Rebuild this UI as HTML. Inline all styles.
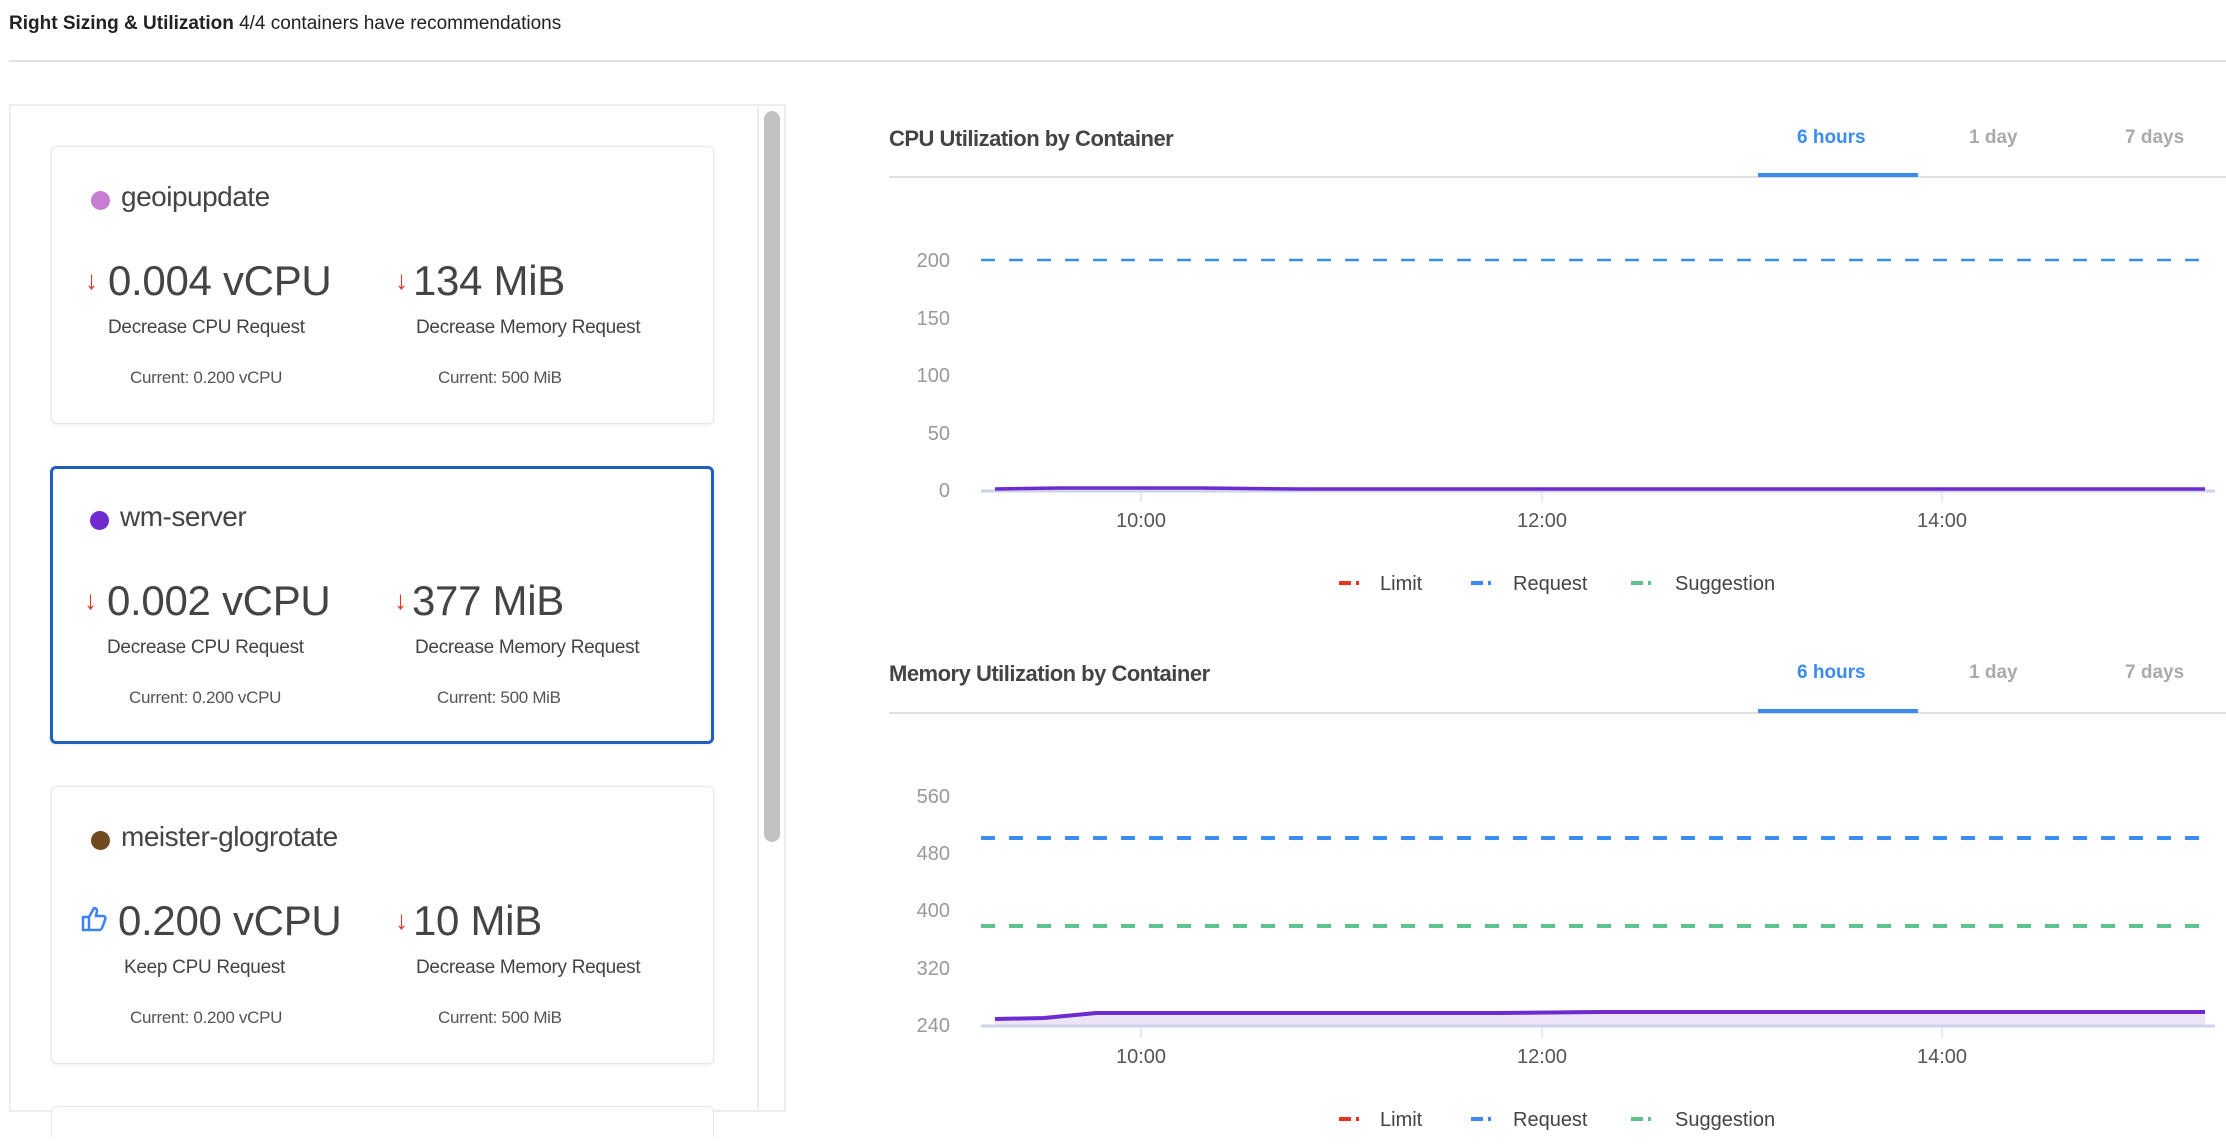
<!DOCTYPE html>
<html style="overflow:hidden;height:1144px"><head><meta charset="utf-8"><style>
body{margin:0;width:2226px;height:1144px;background:#fff;font-family:"Liberation Sans",sans-serif;position:relative;overflow:hidden;color:#333}
.a{position:absolute;white-space:nowrap}
.card{position:absolute;left:51px;width:661px;height:276px;border:1px solid #e6e6e6;border-radius:6px;box-shadow:0 1px 3px rgba(0,0,0,.08);background:#fff}
.sel{border:3px solid #1f5fbf;left:50px;width:658px;height:272px}
.dot{position:absolute;width:19px;height:19px;border-radius:50%;left:39px;top:44px}
.nm{position:absolute;left:69px;top:34px;font-size:28px;color:#444;letter-spacing:-0.5px}
.big{position:absolute;top:110px;font-size:42px;color:#444;letter-spacing:-0.3px}
.lab{position:absolute;top:170px;font-size:19px;color:#444;letter-spacing:-0.3px}
.cur{position:absolute;top:221px;font-size:17px;color:#555;letter-spacing:-0.3px}
.arr{position:absolute;top:118px;color:#e53522;font-size:26px;font-weight:bold}
</style></head><body>
<div class="a" style="left:9px;top:13px;font-size:19px;color:#222"><b>Right Sizing &amp; Utilization</b> 4/4 containers have recommendations</div>
<div class="a" style="left:9px;top:60px;width:2217px;height:2px;background:#e2e2e2"></div>
<div class="a" style="left:9px;top:104px;width:777px;height:1008px;border:2px solid #eee;box-sizing:border-box"></div>
<div class="a" style="left:757px;top:104px;width:2px;height:1008px;background:#eee"></div>
<div class="a" style="left:764px;top:111px;width:16px;height:731px;border-radius:8px;background:#c1c1c1"></div>

<div class="card" style="top:146px">
<div class="dot" style="background:#c77dd1"></div><div class="nm">geoipupdate</div>
<div class="arr" style="left:33px">↓</div><div class="big" style="left:56px">0.004 vCPU</div>
<div class="arr" style="left:343px">↓</div><div class="big" style="left:361px">134 MiB</div>
<div class="lab" style="left:56px">Decrease CPU Request</div><div class="lab" style="left:364px">Decrease Memory Request</div>
<div class="cur" style="left:78px">Current: 0.200 vCPU</div><div class="cur" style="left:386px">Current: 500 MiB</div>
</div>
<div class="card sel" style="top:466px">
<div class="dot" style="background:#6e2bd0;left:37px;top:42px"></div><div class="nm" style="left:67px;top:32px">wm-server</div>
<div class="arr" style="left:31px;top:116px">↓</div><div class="big" style="left:54px;top:108px">0.002 vCPU</div>
<div class="arr" style="left:341px;top:116px">↓</div><div class="big" style="left:359px;top:108px">377 MiB</div>
<div class="lab" style="left:54px;top:168px">Decrease CPU Request</div><div class="lab" style="left:362px;top:168px">Decrease Memory Request</div>
<div class="cur" style="left:76px;top:219px">Current: 0.200 vCPU</div><div class="cur" style="left:384px;top:219px">Current: 500 MiB</div>
</div>
<div class="card" style="top:786px">
<div class="dot" style="background:#6e4a1e"></div><div class="nm">meister-glogrotate</div>
<svg class="a" style="left:28px;top:118px" width="28" height="28" viewBox="0 0 28 28"><path d="M3 12h6v13H3z M9 12l5-9c2 0 3 1 3 3l-1 5h7c2 0 3 2 2 4l-3 8c-1 2-2 2-3 2H9" fill="none" stroke="#3b82f6" stroke-width="2.5"/></svg>
<div class="big" style="left:66px">0.200 vCPU</div>
<div class="arr" style="left:343px">↓</div><div class="big" style="left:361px">10 MiB</div>
<div class="lab" style="left:72px">Keep CPU Request</div><div class="lab" style="left:364px">Decrease Memory Request</div>
<div class="cur" style="left:78px">Current: 0.200 vCPU</div><div class="cur" style="left:386px">Current: 500 MiB</div>
</div>
<div class="card" style="top:1106px;height:30px;border-bottom:none;border-radius:6px 6px 0 0;box-shadow:none"></div>

<!-- CPU chart -->
<div class="a" style="left:889px;top:126px;font-size:22px;font-weight:bold;color:#444;letter-spacing:-0.5px">CPU Utilization by Container</div>
<div class="a" style="left:889px;top:176px;width:1337px;height:2px;background:#e0e0e0"></div>
<div class="a" style="left:1758px;top:173px;width:160px;height:4px;background:#3b8cf0"></div>
<div class="a" style="left:1797px;top:127px;font-size:19px;font-weight:bold;color:#3b8cf0">6 hours</div>
<div class="a" style="left:1969px;top:127px;font-size:19px;font-weight:bold;color:#aaa">1 day</div>
<div class="a" style="left:2125px;top:127px;font-size:19px;font-weight:bold;color:#aaa">7 days</div>
<!-- Memory chart -->
<div class="a" style="left:889px;top:661px;font-size:22px;font-weight:bold;color:#444;letter-spacing:-0.5px">Memory Utilization by Container</div>
<div class="a" style="left:889px;top:712px;width:1337px;height:2px;background:#e0e0e0"></div>
<div class="a" style="left:1758px;top:709px;width:160px;height:4px;background:#3b8cf0"></div>
<div class="a" style="left:1797px;top:662px;font-size:19px;font-weight:bold;color:#3b8cf0">6 hours</div>
<div class="a" style="left:1969px;top:662px;font-size:19px;font-weight:bold;color:#aaa">1 day</div>
<div class="a" style="left:2125px;top:662px;font-size:19px;font-weight:bold;color:#aaa">7 days</div>

<svg class="a" style="left:0;top:0" width="2226" height="1144" font-family="Liberation Sans, sans-serif">
<g font-size="20" fill="#999" text-anchor="end">
<text x="950" y="267">200</text><text x="950" y="325">150</text><text x="950" y="382">100</text><text x="950" y="440">50</text><text x="950" y="497">0</text>
<text x="950" y="803">560</text><text x="950" y="860">480</text><text x="950" y="917">400</text><text x="950" y="975">320</text><text x="950" y="1032">240</text>
</g>
<g font-size="20" fill="#555" text-anchor="middle">
<text x="1141" y="527">10:00</text><text x="1542" y="527">12:00</text><text x="1942" y="527">14:00</text>
<text x="1141" y="1063">10:00</text><text x="1542" y="1063">12:00</text><text x="1942" y="1063">14:00</text>
</g>
<!-- CPU -->
<line x1="981" y1="260" x2="2205" y2="260" stroke="#3b8cf0" stroke-width="2.5" stroke-dasharray="14,14"/>
<line x1="981" y1="491" x2="2215" y2="491" stroke="#cdd3ea" stroke-width="3"/>
<g stroke="#cdd3ea" stroke-width="1"><line x1="1141" y1="491" x2="1141" y2="502"/><line x1="1542" y1="491" x2="1542" y2="502"/><line x1="1942" y1="491" x2="1942" y2="502"/></g>
<polyline points="995,489 1060,488 1200,488 1300,489 2205,489" fill="none" stroke="#6e2bd0" stroke-width="3.5"/>
<!-- Memory -->
<line x1="981" y1="838" x2="2205" y2="838" stroke="#3b8cf0" stroke-width="4" stroke-dasharray="14,14"/>
<line x1="981" y1="926" x2="2205" y2="926" stroke="#5fc48c" stroke-width="4" stroke-dasharray="14,14"/>
<polygon points="995,1019 1044,1018 1096,1013 1500,1013 1600,1012 2205,1012 2205,1025 995,1025" fill="#ede4f8"/>
<polyline points="995,1019 1044,1018 1096,1013 1500,1013 1600,1012 2205,1012" fill="none" stroke="#6e2bd0" stroke-width="4"/>
<line x1="981" y1="1026" x2="2215" y2="1026" stroke="#cdd3ea" stroke-width="3"/>
<g stroke="#cdd3ea" stroke-width="1"><line x1="1141" y1="1026" x2="1141" y2="1038"/><line x1="1542" y1="1026" x2="1542" y2="1038"/><line x1="1942" y1="1026" x2="1942" y2="1038"/></g>
<!-- legends -->
<g font-size="20" fill="#444">
<rect x="1339" y="581" width="12" height="4" fill="#e53522"/><rect x="1356" y="581" width="3" height="4" fill="#e53522"/><text x="1380" y="590">Limit</text>
<rect x="1471" y="581" width="12" height="4" fill="#3b8cf0"/><rect x="1488" y="581" width="3" height="4" fill="#3b8cf0"/><text x="1513" y="590">Request</text>
<rect x="1631" y="581" width="12" height="4" fill="#5fc48c"/><rect x="1648" y="581" width="3" height="4" fill="#5fc48c"/><text x="1675" y="590">Suggestion</text>
<rect x="1339" y="1117" width="12" height="4" fill="#e53522"/><rect x="1356" y="1117" width="3" height="4" fill="#e53522"/><text x="1380" y="1126">Limit</text>
<rect x="1471" y="1117" width="12" height="4" fill="#3b8cf0"/><rect x="1488" y="1117" width="3" height="4" fill="#3b8cf0"/><text x="1513" y="1126">Request</text>
<rect x="1631" y="1117" width="12" height="4" fill="#5fc48c"/><rect x="1648" y="1117" width="3" height="4" fill="#5fc48c"/><text x="1675" y="1126">Suggestion</text>
</g>
</svg>
</body></html>
